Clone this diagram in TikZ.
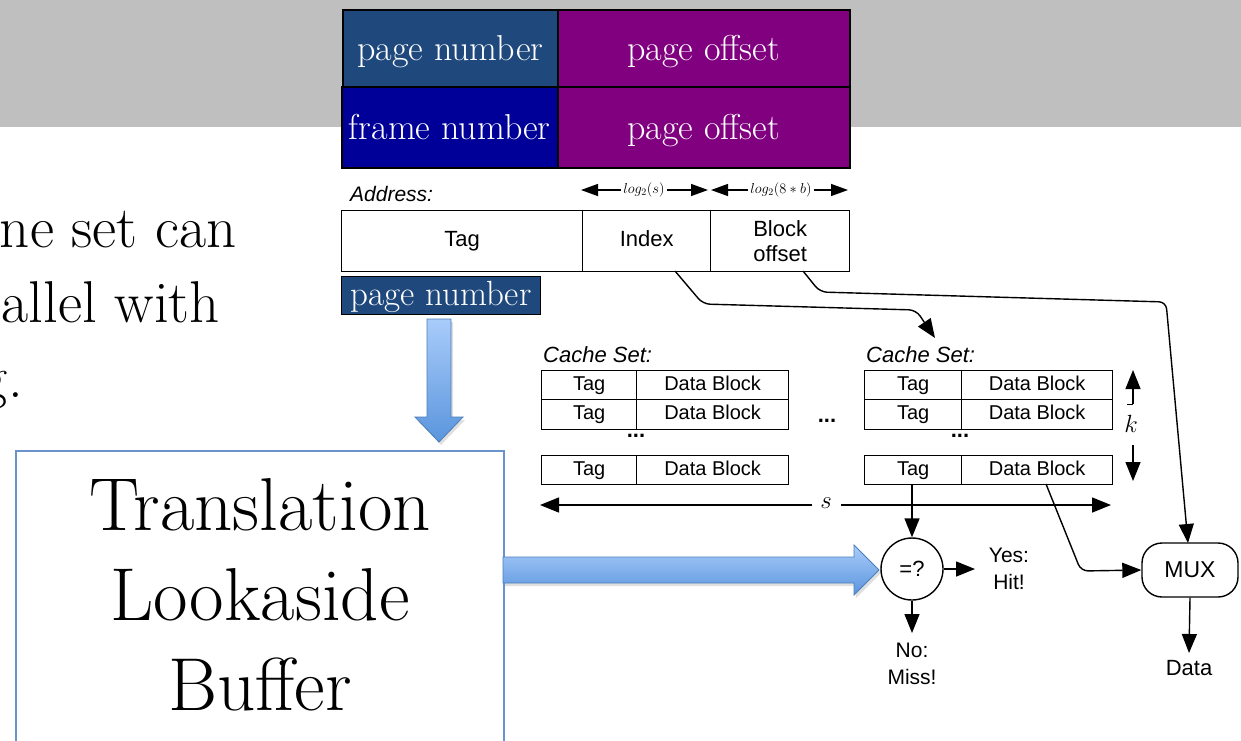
\documentclass[tikz,border=0pt]{standalone}
\usepackage{fontspec}
\newfontfamily\hv{Liberation Sans}
\usetikzlibrary{arrows.meta,shadows}
\newcommand\myfs[2]{\fontsize{#1}{#2}\selectfont}
\definecolor{band}{HTML}{BFBFBF}
\definecolor{pnblue}{HTML}{1F497D}
\definecolor{fnblue}{HTML}{000099}
\definecolor{purp}{HTML}{800080}
\definecolor{arrtop}{HTML}{A9CCFA}
\definecolor{arrbot}{HTML}{5A95DD}
\definecolor{arredge}{HTML}{4A7EBB}
\definecolor{tlbedge}{HTML}{6A93CC}
\begin{document}
\begin{tikzpicture}[x=1pt,y=-1pt,
  sbox/.style={draw, line width=1.5pt, inner sep=0pt, anchor=north west, text=white, font=\myfs{36}{38},
     text height=30pt, text depth=6pt},
  cell/.style={draw, line width=1.3pt, inner sep=0pt, anchor=north west, font=\hv\myfs{22}{25}, align=center},
  onel/.style={text height=16pt, text depth=5pt},
  crow/.style={draw, line width=1.3pt, inner sep=0pt, anchor=north west, font=\hv\myfs{20}{22},
     text height=14.5pt, text depth=4pt},
  lbl/.style={inner sep=0pt, font=\hv\myfs{22}{26}, align=center},
  ilbl/.style={inner sep=0pt, anchor=base west, font=\hv\itshape\myfs{22}{26}},
  arr/.style={-{Triangle[length=19pt,width=15pt]}, line width=1.4pt},
  sarr/.style={-{Triangle[length=17pt,width=12pt]}, line width=1.4pt},
  wire/.style={line width=1.4pt, rounded corners=7pt, -{Triangle[length=19pt,width=15pt]}},
  bigarrow/.style={draw=arredge, line width=0.8pt, top color=arrtop, bottom color=arrbot,
     drop shadow={opacity=0.25, shadow xshift=2pt, shadow yshift=-3pt}},
  dots/.style={inner sep=0pt, font=\hv\bfseries\myfs{22}{22}},
  serif/.style={inner sep=0pt, anchor=base east, font=\myfs{59}{64}},
  tlbtxt/.style={inner sep=0pt, anchor=base, font=\myfs{75}{78}}
]
\useasboundingbox (0,0) rectangle (1241,740);
\clip (0,0) rectangle (1241,740);
\fill[band] (0,0) rectangle (1241,127);

% top address formats
\node[sbox, fill=pnblue, minimum width=215pt, minimum height=77pt] (pn) at (342,9) {page number};
\node[sbox, fill=purp, minimum width=292pt, minimum height=77pt] (po1) at (557,9) {page offset};
\node[sbox, fill=fnblue, minimum width=216pt, minimum height=81pt] (fn) at (341,86) {frame number};
\node[sbox, fill=purp, minimum width=292pt, minimum height=81pt] (po2) at (557,86) {page offset};

% left text
\node[serif] (t1) at (237,247) {ne set can};
\node[serif] (t2) at (220,322) {allel with};
\node[serif] (t3) at (23,397) {g.};

% address
\node[ilbl, font=\hv\itshape\myfs{21}{24}] (addr) at (350,201) {Address:};
\node[inner sep=2pt, font=\myfs{14}{14}] (ls) at (644,190) {$log_2(s)$};
\draw[sarr] (ls.west) -- (581,190);
\draw[sarr] (ls.east) -- (708,190);
\node[inner sep=2pt, font=\myfs{14}{14}] (lb) at (781,190) {$log_2(8*b)$};
\draw[sarr] (lb.west) -- (711,190);
\draw[sarr] (lb.east) -- (848,190);

\node[cell, onel, minimum width=241pt, minimum height=61pt] (tag) at (341,210) {Tag};
\node[cell, onel, minimum width=128pt, minimum height=61pt] (idx) at (582,210) {Index};
\node[cell, minimum width=139pt, minimum height=61pt] (boff) at (710,210) {Block\\offset};

\node[draw=black, line width=1pt, fill=pnblue, text=white, inner sep=0pt, anchor=north west,
  minimum width=199pt, minimum height=38pt, text height=26pt, text depth=6pt, font=\myfs{35}{36}] (pn2) at (341,276) {page number};

% blue down arrow
\path[bigarrow] (427,319) -- (451,319) -- (451,417) -- (463,417) -- (439,442) -- (415,417) -- (427,417) -- cycle;

% TLB
\node[draw=tlbedge, line width=1.5pt, anchor=north west, minimum width=488pt, minimum height=310pt,
  inner sep=0pt] (tlb) at (15,450) {};
\node[tlbtxt] (tlb1) at (260,530) {Translation};
\node[tlbtxt] (tlb2) at (260,620) {Lookaside};
\node[tlbtxt] (tlb3) at (260,710) {Buffer};

% horizontal blue arrow
\path[bigarrow] (503,557) -- (854,557) -- (854,545) -- (879,570) -- (854,595) -- (854,583) -- (503,583) -- cycle;

% cache set 1
\node[ilbl] (cs1) at (543,362) {Cache Set:};
\node[crow, minimum width=95pt, minimum height=29pt] (t11) at (541,370) {Tag};
\node[crow, minimum width=152pt, minimum height=29pt] (d11) at (636,370) {Data Block};
\node[crow, minimum width=95pt, minimum height=30pt] (t12) at (541,399) {Tag};
\node[crow, minimum width=152pt, minimum height=30pt] (d12) at (636,399) {Data Block};
\node[dots] (dt1) at (636,436) {...};
\node[crow, minimum width=95pt, minimum height=29pt] (t13) at (541,455) {Tag};
\node[crow, minimum width=152pt, minimum height=29pt] (d13) at (636,455) {Data Block};

\node[dots] (dtm) at (827,421) {...};

% cache set 2
\node[ilbl] (cs2) at (866,362) {Cache Set:};
\node[crow, minimum width=97pt, minimum height=29pt] (t21) at (864,370) {Tag};
\node[crow, minimum width=151pt, minimum height=29pt] (d21) at (961,370) {Data Block};
\node[crow, minimum width=97pt, minimum height=30pt] (t22) at (864,399) {Tag};
\node[crow, minimum width=151pt, minimum height=30pt] (d22) at (961,399) {Data Block};
\node[dots] (dt2) at (960,436) {...};
\node[crow, minimum width=97pt, minimum height=29pt] (t23) at (864,455) {Tag};
\node[crow, minimum width=151pt, minimum height=29pt] (d23) at (961,455) {Data Block};

% k
\coordinate (kup) at (1133,370);
\coordinate (kdn) at (1133,481);
\node[inner sep=0pt, font=\myfs{24}{24}] (k) at (1131,424) {$k$};
\draw[arr] (1133,404) -- (kup);
\draw[line width=0.6pt] (1127,404) -- (1133,404);
\draw[arr] (1133,445) -- (kdn);

% s
\node[inner sep=2pt, font=\myfs{26}{26}] (s) at (826,503) {$s$};
\coordinate (sl) at (540,505);
\coordinate (sr) at (1111,505);
\draw[arr] (812,505) -- (sl);
\draw[arr] (841,505) -- (sr);

% comparator
\node[draw, circle, line width=1.4pt, minimum size=62pt, inner sep=0pt, font=\hv\myfs{22}{24}] (cmp) at (912,569) {=?};
\node[lbl, font=\hv\myfs{21}{27}] (yes) at (1009,569) {Yes:\\Hit!};
\node[lbl, font=\hv\myfs{21}{27}] (no) at (912,664) {No:\\Miss!};
\draw[arr] (cmp.east) -- (975,569);
\draw[arr] (cmp.south) -- (912,633);
\draw[arr] (912,484) -- (cmp.north);

% MUX
\node[draw, line width=1.4pt, rounded corners=20pt, minimum width=96pt, minimum height=54pt, inner sep=0pt,
  font=\hv\myfs{23}{24}] (mux) at (1190,570) {MUX};
\node[lbl, font=\hv\myfs{22}{24}] (data) at (1189,668) {Data};
\draw[arr] (mux.south) -- (1189,653);
\draw[wire] (1046,484) -- (1081,571) -- (mux.west);

% address connectors
\draw[wire] (675,271) -- (703,304) -- (916,310) -- (935,338);
\draw[wire] (803,271) -- (820,292) -- (1166,302) -- (1188,543);
\end{tikzpicture}
\end{document}
